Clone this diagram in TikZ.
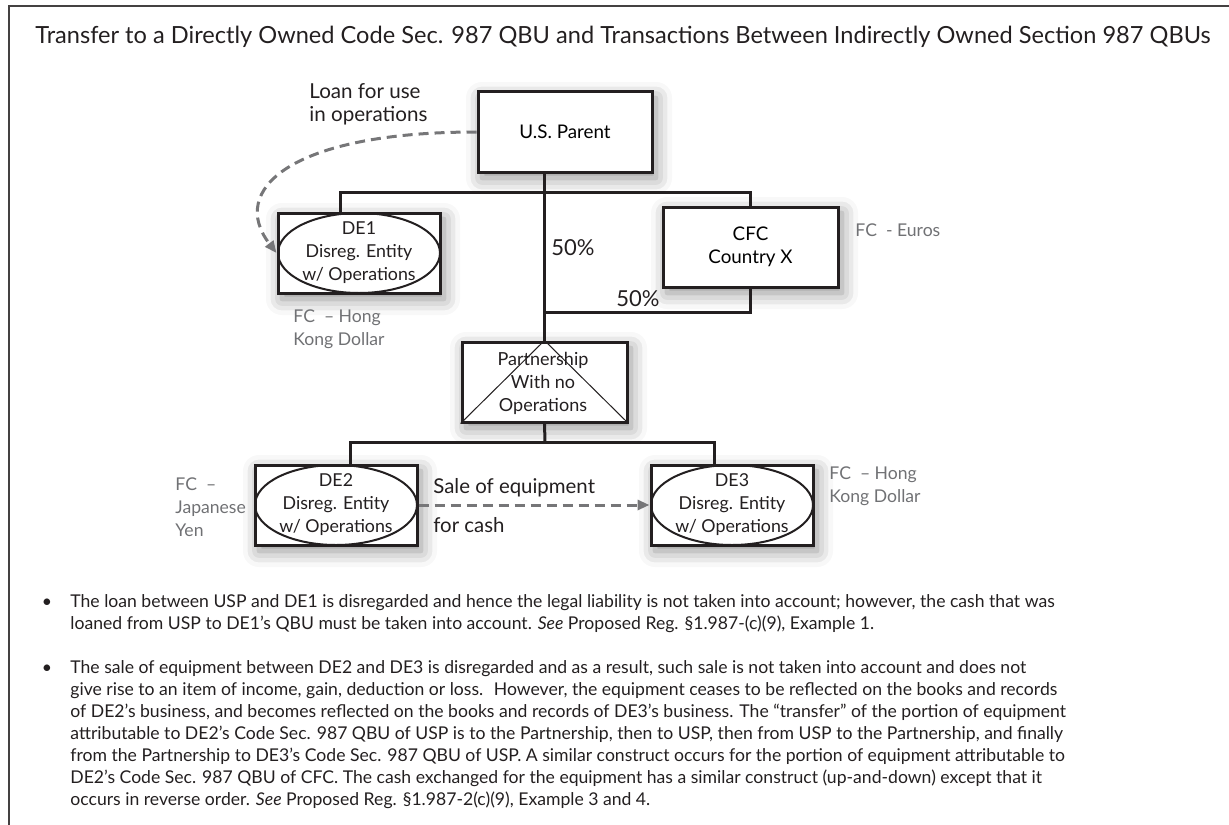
\documentclass[tikz,border=0pt]{standalone}
\usepackage{fontspec}
\setmainfont{Lato}
\usetikzlibrary{calc,arrows.meta,shadows.blur}

\definecolor{ink}{RGB}{35,31,32}
\definecolor{fcgray}{RGB}{112,113,116}
\definecolor{loangray}{RGB}{118,118,120}

\tikzset{
  entbox/.style={draw=ink, line width=1.5pt, fill=white, align=center,
    inner sep=0pt, font=\fontsize{9.4}{11.5}\selectfont,
    blur shadow={shadow xshift=2pt, shadow yshift=-3pt, shadow blur radius=8pt, shadow opacity=45}},
  link/.style={draw=ink, line width=1.5pt},
  loan/.style={draw=loangray, line width=1.5pt, dash pattern=on 5pt off 3pt,
    -{Triangle[length=6pt,width=5pt]}},
  fclabel/.style={anchor=west, align=left, text=fcgray, inner sep=0pt,
    font=\fontsize{8.8}{11.5}\selectfont},
  plain/.style={anchor=west, align=left, text=ink, inner sep=0pt,
    font=\fontsize{9.6}{11.5}\selectfont},
  note/.style={anchor=north west, align=left, text=ink, inner sep=0pt,
    font=\fontsize{8.8}{11.05}\selectfont}
}

\begin{document}
\begin{tikzpicture}[x=0.50pt,y=0.50pt,yscale=-1,xscale=1]
    \path[use as bounding box] (0,0) rectangle (1229,824);
    %Frame
    \draw[draw=ink!85, line width=1pt] (9,830) -- (9,6) -- (1235,6);

    % Text Node
    \node[plain, font=\fontsize{11.8}{13}\selectfont] (title) at (35,37)
      {Transfer to a Directly Owned Code Sec. 987 QBU and Transactions Between Indirectly Owned Section 987 QBUs};

    %Shape: Rectangle [U.S. Parent]
    \node[entbox, minimum width=87pt, minimum height=40pt] (usp) at (565,132) {U.S. Parent};
    %Shape: Rectangle [DE1]
    \node[entbox, minimum width=81pt, minimum height=40pt] (de1) at (359,253) {};
    \draw[draw=ink, line width=1pt] (de1.center) ellipse [x radius=40.5pt, y radius=20pt];
    \node[align=center, text=ink, font=\fontsize{8.9}{11.5}\selectfont] (de1txt) at (de1.center) {DE1\\Disreg. Entity\\w/ Operations};
    %Shape: Rectangle [CFC]
    \node[entbox, minimum width=87.5pt, minimum height=40pt] (cfc) at (750.5,247) {CFC\\Country X};
    %Shape: Rectangle [Partnership]
    \node[entbox, minimum width=82.5pt, minimum height=40pt] (part) at (544.5,382) {};
    \draw[draw=ink, line width=0.5pt] (part.south west) -- (part.north) -- (part.south east);
    \node[align=center, text=ink, font=\fontsize{9}{11.5}\selectfont] (parttxt) at (543,383) {Partnership\\With no\\Operations};
    %Shape: Rectangle [DE2]
    \node[entbox, minimum width=81pt, minimum height=40pt] (de2) at (336,505) {};
    \draw[draw=ink, line width=1pt] (de2.center) ellipse [x radius=40.5pt, y radius=20pt];
    \node[align=center, text=ink, font=\fontsize{8.9}{11.5}\selectfont] (de2txt) at (de2.center) {DE2\\Disreg. Entity\\w/ Operations};
    %Shape: Rectangle [DE3]
    \node[entbox, minimum width=81pt, minimum height=40pt] (de3) at (732,505) {};
    \draw[draw=ink, line width=1pt] (de3.center) ellipse [x radius=40.5pt, y radius=20pt];
    \node[align=center, text=ink, font=\fontsize{8.9}{11.5}\selectfont] (de3txt) at (de3.center) {DE3\\Disreg. Entity\\w/ Operations};

    %Straight Lines [ownership]
    \coordinate (bus1) at (545,192);
    \coordinate (bus2) at (545,312);
    \coordinate (bus3) at (545,442);
    \draw[link] (usp.south -| part.north) -- (part.north);
    \draw[link] ($(de1.north)+(-19,0)$) |- (bus1) -| (cfc.north);
    \draw[link] (cfc.south) |- (bus2);
    \draw[link] (part.south) -- (bus3);
    \draw[link] ($(de2.north)+(14,0)$) |- (bus3) -| ($(de3.north)+(-18,0)$);

    %Dashed Lines [loan and sale]
    \draw[loan] (usp.west) .. controls (290,132) and (228,190) .. (de1.west);
    \draw[loan] (de2.east) -- (de3.west);

    % Text Node
    \node[plain, font=\fontsize{10.3}{11.5}\selectfont] (loantxt) at (309,104) {Loan for use\\in operations};
    % Text Node
    \node[plain, font=\fontsize{11}{12}\selectfont] (pct1) at (551,248) {50\%};
    % Text Node
    \node[plain, font=\fontsize{11}{12}\selectfont] (pct2) at (616,299) {50\%};
    % Text Node
    \node[plain, font=\fontsize{10.2}{12}\selectfont] (saletxt) at (433,488) {Sale of equipment};
    % Text Node
    \node[plain, font=\fontsize{10.2}{12}\selectfont] (cashtxt) at (433,525) {for cash};
    % Text Node
    \node[fclabel] (fceur) at (855,230) {FC \ - Euros};
    % Text Node
    \node[fclabel] (fchk1) at (293,329) {FC \ – Hong\\Kong Dollar};
    % Text Node
    \node[fclabel] (fcjpy) at (175,507) {FC \ –\\Japanese\\Yen};
    % Text Node
    \node[fclabel] (fchk2) at (829,486) {FC \ – Hong\\Kong Dollar};

    % Bullets
    \node[text=ink, inner sep=0pt, font=\fontsize{8.8}{11.05}\selectfont] (dot1) at (47,603) {\textbullet};
    \node[note] (note1) at (70,594) {The loan between USP and DE1 is disregarded and hence the legal liability is not taken into account; however, the cash that was\\
loaned from USP to DE1’s QBU must be taken into account. \textit{See} Proposed Reg. §1.987-(c)(9), Example 1.};
    \node[text=ink, inner sep=0pt, font=\fontsize{8.8}{11.05}\selectfont] (dot2) at (47,669) {\textbullet};
    \node[note] (note2) at (70,660) {The sale of equipment between DE2 and DE3 is disregarded and as a result, such sale is not taken into account and does not\\
give rise to an item of income, gain, deduction or loss. \ However, the equipment ceases to be reflected on the books and records\\
of DE2’s business, and becomes reflected on the books and records of DE3’s business. The “transfer” of the portion of equipment\\
attributable to DE2’s Code Sec. 987 QBU of USP is to the Partnership, then to USP, then from USP to the Partnership, and finally\\
from the Partnership to DE3’s Code Sec. 987 QBU of USP. A similar construct occurs for the portion of equipment attributable to\\
DE2’s Code Sec. 987 QBU of CFC. The cash exchanged for the equipment has a similar construct (up-and-down) except that it\\
occurs in reverse order. \textit{See} Proposed Reg. §1.987-2(c)(9), Example 3 and 4.};
\end{tikzpicture}
\end{document}
